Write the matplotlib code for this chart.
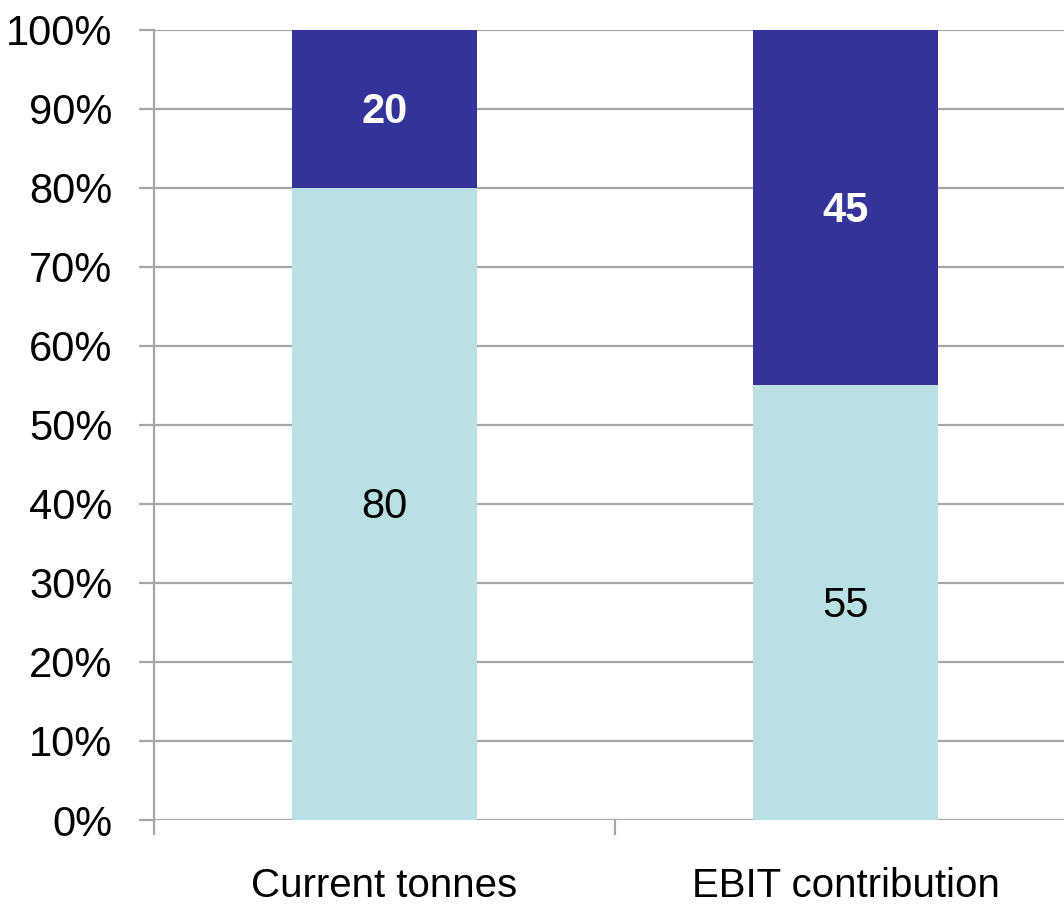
import matplotlib
matplotlib.use("Agg")
import matplotlib.pyplot as plt
from matplotlib.ticker import FuncFormatter
import numpy as np

plt.rcParams['font.family'] = ['Liberation Sans', 'DejaVu Sans']

# shares in percent
categories = ["Current tonnes", "EBIT contribution"]
base_share = [80, 55]
top_share = [20, 45]

light = '#b9e0e3'
navy = '#333399'
grid = '#a6a6a6'

fig = plt.figure(figsize=(10.64, 9.10), dpi=100)
ax = fig.add_axes([154/1064, 90/910, 922/1064, 790.5/910])

x = np.arange(len(categories))
ax.bar(x, base_share, width=0.40, color=light, zorder=2)
ax.bar(x, top_share, width=0.40, bottom=base_share, color=navy, zorder=2)

for xi, v in zip(x, base_share):
    ax.text(xi, v / 2 - 0.4, str(v), ha='center', va='center', fontsize=30, color='black')
for xi, v, b in zip(x, top_share, base_share):
    ax.text(xi, b + v / 2 - 0.4, str(v), ha='center', va='center', fontsize=30,
            color='white', fontweight='bold')

ax.set_xlim(-0.5, 1.5)
ax.set_ylim(0, 100)
ax.set_yticks(np.arange(0, 101, 10))
ax.yaxis.set_major_formatter(FuncFormatter(lambda v, p: '%d%%' % v))
ax.set_xticks([-0.5, 0.5, 1.5])
ax.set_xticklabels([])
ax.set_xticks(x, minor=True)
ax.set_xticklabels(categories, minor=True)

ax.grid(axis='y', color=grid, lw=1.6, zorder=0)
for s in ['top', 'right', 'bottom']:
    ax.spines[s].set_visible(False)
ax.spines['left'].set_color(grid)
ax.spines['left'].set_linewidth(1.6)

ax.tick_params(axis='y', which='major', length=11, width=1.6, color=grid,
               labelsize=30, pad=19)
ax.tick_params(axis='x', which='major', length=11, width=1.6, color=grid)
ax.tick_params(axis='x', which='minor', length=0, labelsize=29, pad=34)

plt.savefig("out.png", dpi=100)
